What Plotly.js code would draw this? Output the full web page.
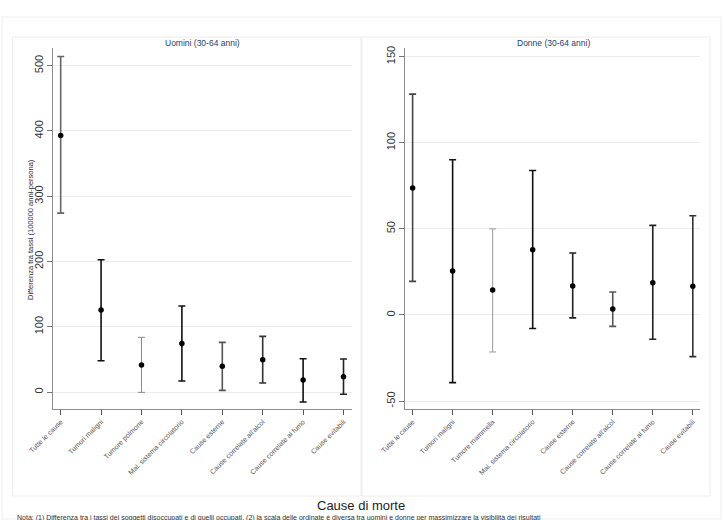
<!DOCTYPE html>
<html>
<head>
<meta charset="utf-8">
<script src="https://cdn.plot.ly/plotly-3.0.1.min.js"></script>
<style>html,body{margin:0;padding:0;background:#fff;}#chart{width:723px;height:520px;}</style>
</head>
<body>
<div id="chart"></div>
<script>
// ---- data ----
const catsMen = ["Tutte le cause","Tumori maligni","Tumore polmone","Mal. sistema circolatorio","Cause esterne","Cause correlate all'alcol","Cause correlate al fumo","Cause evitabili"];
const menPoint = [393, 125.6, 41.3, 74.5, 39.3, 49.5, 18.4, 23.4];
const menLow   = [274, 48, -0.5, 16.8, 2.6, 13.8, -15.3, -3.3];
const menHigh  = [514, 202.6, 83.8, 131.7, 76, 85.2, 51, 50.5];

const catsWomen = ["Tutte le cause","Tumori maligni","Tumore mammella","Mal. sistema circolatorio","Cause esterne","Cause correlate all'alcol","Cause correlate al fumo","Cause evitabili"];
const womenPoint = [73.7, 25.5, 14.5, 37.9, 16.8, 3.5, 18.7, 16.6];
const womenLow   = [19.5, -39.3, -21.5, -7.9, -1.7, -6.6, -14.1, -24.2];
const womenHigh  = [128.2, 90.1, 50, 83.9, 36, 13.3, 52, 57.6];

const menTicks = [0, 100, 200, 300, 400, 500];
const womenTicks = [-50, 0, 50, 100, 150];

// ---- styles ----
const menBarColor   = ["#666","#111","#8a8a8a","#111","#555","#333","#111","#222"];
const womenBarColor = ["#444","#111","#9a9a9a","#111","#222","#555","#222","#333"];

const W = 723, H = 520;
const px = v => v / W;
const py = v => 1 - v / H;

const traces = [];
function addSeries(cats, pt, lo, hi, colors, xa, ya) {
  for (let i = 0; i < cats.length; i++) {
    const light = colors[i] === "#8a8a8a" || colors[i] === "#9a9a9a";
    traces.push({
      type: 'scatter', mode: 'markers', x: [cats[i]], y: [pt[i]],
      xaxis: xa, yaxis: ya, showlegend: false, hoverinfo: 'skip',
      marker: {color: '#000', size: 5.5},
      error_y: {type: 'data', symmetric: false, array: [hi[i] - pt[i]], arrayminus: [pt[i] - lo[i]],
        color: colors[i], thickness: light ? 1 : 1.6, width: 3.5}
    });
  }
}
addSeries(catsMen, menPoint, menLow, menHigh, menBarColor, 'x', 'y');
addSeries(catsWomen, womenPoint, womenLow, womenHigh, womenBarColor, 'x2', 'y2');

const xBase = {
  type: 'category', showgrid: false, zeroline: false,
  showline: true, linecolor: '#8c8c8c', linewidth: 1,
  ticks: 'outside', ticklen: 5, tickcolor: '#555', tickwidth: 1,
  tickangle: -45, tickfont: {family: 'Liberation Sans, Arial, sans-serif', size: 7, color: '#555'},
  fixedrange: true
};
const yBase = {
  showgrid: true, gridcolor: '#ececec', gridwidth: 1, zeroline: false,
  showline: true, linecolor: '#8c8c8c', linewidth: 1,
  ticks: 'outside', ticklen: 5, tickcolor: '#777', tickwidth: 1,
  tickangle: -90, tickfont: {family: 'Liberation Sans, Arial, sans-serif', size: 11, color: '#333'},
  tickmode: 'array', fixedrange: true
};

const layout = {
  width: W, height: H,
  margin: {l: 0, r: 0, t: 0, b: 0},
  paper_bgcolor: '#fff', plot_bgcolor: 'rgba(0,0,0,0)',
  showlegend: false,
  xaxis: Object.assign({}, xBase, {domain: [px(53), px(352)], range: [-0.19, 7.21], anchor: 'y',
    categoryorder: 'array', categoryarray: catsMen}),
  yaxis: Object.assign({}, yBase, {domain: [py(409), py(48)], range: [-26, 527], anchor: 'x',
    tickvals: menTicks, ticktext: menTicks.map(String)}),
  xaxis2: Object.assign({}, xBase, {domain: [px(405), px(700)], range: [-0.19, 7.18], anchor: 'y2',
    categoryorder: 'array', categoryarray: catsWomen}),
  yaxis2: Object.assign({}, yBase, {domain: [py(409), py(48)], range: [-54.6, 155], anchor: 'x2',
    tickvals: womenTicks, ticktext: womenTicks.map(String)}),
  shapes: [
    {type: 'rect', xref: 'paper', yref: 'paper', x0: px(2), x1: px(721), y0: py(519), y1: py(17),
      line: {color: '#eeeeee', width: 1}},
    {type: 'rect', xref: 'paper', yref: 'paper', x0: px(12.5), x1: px(361), y0: py(496), y1: py(37),
      line: {color: '#ececec', width: 1}},
    {type: 'rect', xref: 'paper', yref: 'paper', x0: px(362), x1: px(710), y0: py(496), y1: py(37),
      line: {color: '#ececec', width: 1}}
  ],
  annotations: [
    {text: 'Uomini (30-64 anni)', xref: 'paper', yref: 'paper', x: px(202), y: py(43),
      showarrow: false, xanchor: 'center', yanchor: 'middle',
      font: {family: 'Liberation Sans, Arial, sans-serif', size: 8.5, color: '#2a3d6a'}},
    {text: 'Donne (30-64 anni)', xref: 'paper', yref: 'paper', x: px(553), y: py(43),
      showarrow: false, xanchor: 'center', yanchor: 'middle',
      font: {family: 'Liberation Sans, Arial, sans-serif', size: 8.5, color: '#2a3d6a'}},
    {text: 'Differenza tra tassi (100000 anni-persona)', xref: 'paper', yref: 'paper', x: px(30), y: py(230),
      showarrow: false, textangle: -90, xanchor: 'center', yanchor: 'middle',
      font: {family: 'Liberation Sans, Arial, sans-serif', size: 7.5, color: '#1f2a44'}},
    {text: 'Cause di morte', xref: 'paper', yref: 'paper', x: px(361), y: py(505),
      showarrow: false, xanchor: 'center', yanchor: 'middle',
      font: {family: 'Liberation Sans, Arial, sans-serif', size: 13, color: '#222'}},
    {text: 'Nota: (1) Differenza tra i tassi dei soggetti disoccupati e di quelli occupati. (2) la scala delle ordinate è diversa tra uomini e donne per massimizzare la visibilità dei risultati',
      xref: 'paper', yref: 'paper', x: px(15), y: py(518),
      showarrow: false, xanchor: 'left', yanchor: 'middle',
      font: {family: 'Liberation Sans, Arial, sans-serif', size: 7, color: '#333'}}
  ]
};

Plotly.newPlot('chart', traces, layout, {displayModeBar: false, staticPlot: true});
</script>
</body>
</html>
